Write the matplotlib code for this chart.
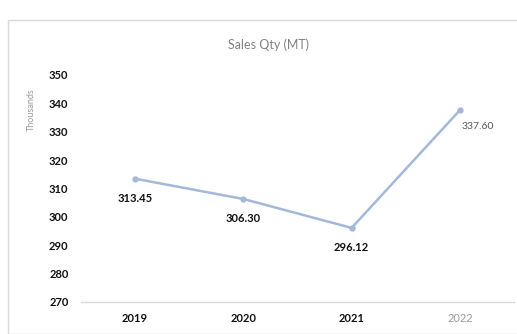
import matplotlib
matplotlib.use("Agg")
import matplotlib.pyplot as plt
from matplotlib.patches import Rectangle

# Values (in thousands of MT)
years = ["2019", "2020", "2021", "2022"]
sales_qty = [313.45, 306.30, 296.12, 337.60]
y_ticks = [270, 280, 290, 300, 310, 320, 330, 340, 350]

plt.rcParams["font.family"] = ["Lato", "DejaVu Sans"]

fig = plt.figure(figsize=(5.17, 3.34), dpi=100)
fig.patch.set_facecolor("white")

# chart frame, like an Excel chart area border
fig.add_artist(Rectangle((8 / 517, 0), 1.0, 1 - 20 / 334, transform=fig.transFigure,
                         fill=False, edgecolor="#d9d9d9", linewidth=1.0))

ax = fig.add_axes([81 / 517, 1 - 302 / 334, (514 - 81) / 517, (302 - 75) / 334])
x = list(range(len(years)))
ax.plot(x, sales_qty, color="#a3b8da", linewidth=1.8, marker="o", markersize=3.5,
        markerfacecolor="#a3b8da", markeredgecolor="#a3b8da")

for i, v in enumerate(sales_qty):
    if i == len(sales_qty) - 1:
        ax.annotate(f"{v:.2f}", (i, v), xytext=(13, -12), textcoords="offset points",
                    ha="center", va="center", fontsize=7.5, color="#555555")
    else:
        ax.annotate(f"{v:.2f}", (i, v), xytext=(0, -14), textcoords="offset points",
                    ha="center", va="center", fontsize=8, fontweight="bold", color="#111111")

ax.set_xlim(-0.5, len(years) - 0.5)
ax.set_ylim(y_ticks[0], y_ticks[-1])
ax.set_yticks(y_ticks)
ax.set_yticklabels([str(t) for t in y_ticks], fontsize=8, fontweight="bold", color="#111111")
ax.set_xticks(x)
ax.set_xticklabels(years, fontsize=8, fontweight="bold", color="#111111")
ax.get_xticklabels()[-1].set_color("#999999")
ax.get_xticklabels()[-1].set_fontweight("normal")
ax.tick_params(axis="both", length=0)
ax.tick_params(axis="y", pad=9)
ax.tick_params(axis="x", pad=8)

for side in ["top", "right", "left"]:
    ax.spines[side].set_visible(False)
ax.spines["bottom"].set_color("#d9d9d9")
ax.spines["bottom"].set_linewidth(1.0)

fig.text(269 / 517, 1 - 45 / 334, "Sales Qty (MT)", ha="center", va="center",
         fontsize=9, color="#808080")
fig.text(31 / 517, 1 - 110 / 334, "Thousands", ha="center", va="center",
         rotation=90, fontsize=6.5, color="#999999")

fig.savefig("out.png", dpi=100)
